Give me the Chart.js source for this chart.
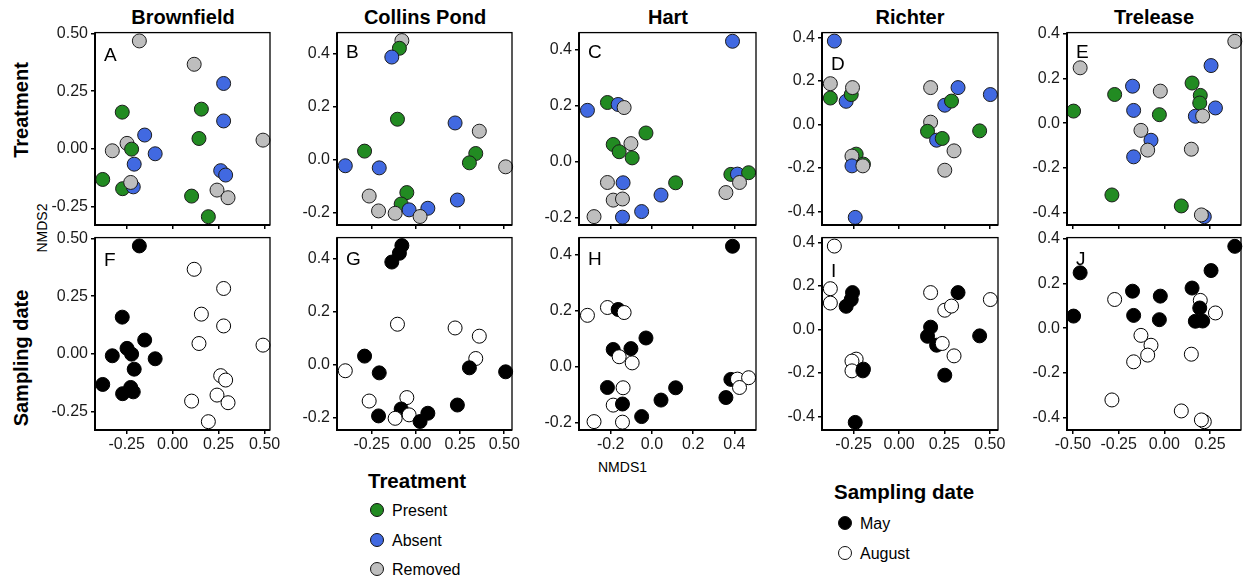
<!DOCTYPE html>
<html lang="en">
<head>
<meta charset="UTF-8">
<title>NMDS ordination by site</title>
<script src="https://cdn.jsdelivr.net/npm/chart.js"></script>
<style>
  body { margin: 0; width: 1244px; height: 583px; background: #fff; position: relative; overflow: hidden;
         font-family: "Liberation Sans", Arial, sans-serif; color: #000; }
  .panel { position: absolute; }
  .title { position: absolute; top: 6px; font-weight: bold; font-size: 20px; white-space: nowrap; transform: translateX(-50%); }
  .letter { position: absolute; font-size: 19px; line-height: 1; }
  .rot { position: absolute; white-space: nowrap; transform: translate(-50%, -50%) rotate(-90deg); }
  .rowlab { font-weight: bold; font-size: 20px; }
  .axlab { font-size: 14px; }
  .leg-title { position: absolute; font-weight: bold; font-size: 20.5px; white-space: nowrap; }
  .leg-item { position: absolute; font-size: 16px; white-space: nowrap; line-height: 18px; }
  .leg-item span.dot { position: absolute; left: -22px; top: 1px; width: 14px; height: 14px; border-radius: 50%;
                       border: 1px solid #111; box-sizing: border-box; }
</style>
</head>
<body>

<div class="title" style="left:183px">Brownfield</div>
<div class="title" style="left:425px">Collins Pond</div>
<div class="title" style="left:668px">Hart</div>
<div class="title" style="left:910px">Richter</div>
<div class="title" style="left:1154px">Trelease</div>

<div class="rot rowlab" style="left:21px; top:110px">Treatment</div>
<div class="rot rowlab" style="left:21px; top:358px">Sampling date</div>
<div class="rot axlab" style="left:42px; top:228px">NMDS2</div>
<div class="axlab" style="position:absolute; left:598px; top:459px">NMDS1</div>

<div class="leg-title" style="left:368px; top:469px">Treatment</div>
<div class="leg-item" style="left:392px; top:502px"><span class="dot" style="background:#228B22"></span>Present</div>
<div class="leg-item" style="left:392px; top:532px"><span class="dot" style="background:#4169E1"></span>Absent</div>
<div class="leg-item" style="left:392px; top:561px"><span class="dot" style="background:#BEBEBE"></span>Removed</div>

<div class="leg-title" style="left:834px; top:480px">Sampling date</div>
<div class="leg-item" style="left:860px; top:515px"><span class="dot" style="background:#000"></span>May</div>
<div class="leg-item" style="left:860px; top:545px"><span class="dot" style="background:#fff"></span>August</div>

<script>
  // ---- NMDS scores per site (same points in both rows) ----
  // treatment: P = present, A = absent, R = removed ; date: M = May, U = August
  const brownfieldX = [-0.181, 0.117, 0.277, -0.274, 0.156, 0.277, -0.152, -0.328, -0.248, -0.223, 0.143, 0.491,
                       -0.095, -0.209, -0.380, -0.272, -0.214, -0.228, 0.261, 0.288, 0.103, 0.241, 0.301, 0.194];
  const brownfieldY = [0.467, 0.366, 0.283, 0.159, 0.172, 0.121, 0.060, -0.008, 0.024, -0.001, 0.045, 0.038,
                       -0.021, -0.066, -0.132, -0.172, -0.164, -0.145, -0.094, -0.113, -0.204, -0.178, -0.211, -0.293];
  const brownfieldTrt = ['R','R','A','P','P','A','A','R','R','P','P','R','A','A','P','P','A','R','A','A','P','R','R','P'];
  const brownfieldDate = ['M','U','U','M','U','U','M','M','M','M','U','U','M','M','M','M','M','M','U','U','U','U','U','U'];

  const collinsX = [-0.079, -0.093, -0.136, -0.104, 0.222, 0.359, -0.290, 0.339, 0.303, -0.399, -0.207, 0.508,
                    -0.264, -0.051, -0.083, 0.235, -0.211, -0.117, -0.038, 0.068, 0.024];
  const collinsY = [0.448, 0.419, 0.386, 0.152, 0.138, 0.107, 0.032, 0.023, -0.012, -0.023, -0.031, -0.027,
                    -0.137, -0.124, -0.167, -0.152, -0.193, -0.202, -0.189, -0.183, -0.214];
  const collinsTrt = ['R','P','A','P','A','R','P','P','P','A','A','R','R','P','P','A','R','R','A','A','R'];
  const collinsDate = ['M','M','M','U','U','U','M','U','M','U','M','M','U','U','M','M','M','U','U','M','M'];

  const hartX = [0.391, -0.313, -0.216, -0.164, -0.135, -0.029, -0.188, -0.102, -0.159, -0.096, 0.383, 0.415,
                 0.469, 0.425, -0.216, -0.140, 0.115, 0.359, 0.044, -0.188, -0.143, -0.050, -0.281, -0.143];
  const hartY = [0.431, 0.184, 0.212, 0.205, 0.194, 0.103, 0.062, 0.065, 0.036, 0.014, -0.045, -0.044,
                 -0.039, -0.074, -0.074, -0.075, -0.075, -0.110, -0.119, -0.137, -0.133, -0.178, -0.196, -0.198];
  const hartTrt = ['A','A','P','A','R','P','P','R','P','P','P','A','P','R','R','A','P','R','A','R','R','A','R','A'];
  const hartDate = ['M','U','U','M','U','M','M','M','U','U','M','U','U','U','M','U','M','M','M','U','M','M','U','U'];

  const richterX = [-0.356, -0.378, -0.378, -0.291, -0.263, -0.256, 0.174, 0.325, 0.252, 0.289, 0.503, 0.174,
                    0.157, 0.444, 0.207, 0.238, 0.303, 0.252, -0.236, -0.259, -0.259, -0.196, -0.199, -0.241];
  const richterY = [0.384, 0.188, 0.122, 0.107, 0.138, 0.170, 0.170, 0.170, 0.089, 0.108, 0.138, 0.011,
                    -0.031, -0.029, -0.072, -0.064, -0.121, -0.210, -0.136, -0.145, -0.190, -0.182, -0.190, -0.427];
  const richterTrt = ['A','R','P','A','P','R','R','A','A','P','A','R','P','P','A','P','R','R','P','R','A','P','R','A'];
  const richterDate = ['U','U','U','M','M','M','U','M','U','U','U','M','M','M','M','U','U','M','U','U','U','M','M','M'];

  const treleaseX = [0.386, -0.461, 0.256, -0.174, 0.152, -0.022, -0.272, 0.197, 0.194, -0.497, -0.168, 0.280,
                     -0.027, 0.170, 0.210, -0.128, -0.073, -0.091, -0.168, 0.148, -0.287, 0.093, 0.219, 0.203];
  const treleaseY = [0.365, 0.247, 0.257, 0.165, 0.179, 0.143, 0.128, 0.124, 0.090, 0.054, 0.057, 0.068,
                     0.038, 0.031, 0.032, -0.032, -0.076, -0.120, -0.150, -0.116, -0.320, -0.369, -0.417, -0.409];
  const treleaseTrt = ['R','R','A','A','P','R','P','P','P','P','A','A','P','A','R','R','A','R','A','R','P','P','A','R'];
  const treleaseDate = ['M','M','M','M','M','M','U','U','M','M','M','U','M','M','M','U','U','U','U','U','U','U','U','U'];

  // tick values for each column
  const ticks25 = [-0.25, 0, 0.25, 0.5];
  const ticks2 = [-0.2, 0, 0.2, 0.4];
  const ticks4 = [-0.4, -0.2, 0, 0.2, 0.4];
  const ticksTreleaseX = [-0.5, -0.25, 0, 0.25];

  const trtColor = { P: '#228B22', A: '#4169E1', R: '#BEBEBE' };
  const dateColor = { M: '#000000', U: '#FFFFFF' };

  // panel layout: plot box edges in page pixels and axis limits
  const columns = [
    { x: brownfieldX, y: brownfieldY, trt: brownfieldTrt, date: brownfieldDate, left: 95, right: 270,
      xMin: -0.422, xMax: 0.529, xTicks: ticks25, xDec: 2, yMin: -0.329, yMax: 0.503, yTicks: ticks25, yDec: 2,
      letters: ['A', 'F'], letterTop: [45, 250] },
    { x: collinsX, y: collinsY, trt: collinsTrt, date: collinsDate, left: 337, right: 512,
      xMin: -0.446, xMax: 0.544, xTicks: ticks25, xDec: 2, yMin: -0.246, yMax: 0.478, yTicks: ticks2, yDec: 1,
      letters: ['B', 'G'], letterTop: [42, 249] },
    { x: hartX, y: hartY, trt: hartTrt, date: hartDate, left: 579, right: 756,
      xMin: -0.354, xMax: 0.505, xTicks: ticks2, xDec: 1, yMin: -0.226, yMax: 0.462, yTicks: ticks2, yDec: 1,
      letters: ['C', 'H'], letterTop: [42, 249] },
    { x: richterX, y: richterY, trt: richterTrt, date: richterDate, left: 822, right: 998,
      xMin: -0.424, xMax: 0.545, xTicks: ticks25, xDec: 2, yMin: -0.462, yMax: 0.423, yTicks: ticks4, yDec: 1,
      letters: ['D', 'I'], letterTop: [54, 261] },
    { x: treleaseX, y: treleaseY, trt: treleaseTrt, date: treleaseDate, left: 1067, right: 1241,
      xMin: -0.533, xMax: 0.420, xTicks: ticksTreleaseX, xDec: 2, yMin: -0.454, yMax: 0.404, yTicks: ticks4, yDec: 1,
      letters: ['E', 'J'], letterTop: [42, 249] }
  ];
  const rowTop = [32, 237];
  const plotH = 193;

  const FONT = '"Liberation Sans", Arial, sans-serif';
  const padL = 50, padR = 16, padT = 12, padB = 26;

  // black box around the plot area, heavier on the axis sides
  const framePlugin = {
    id: 'frame',
    afterDraw(chart) {
      const { ctx, chartArea: a } = chart;
      ctx.save();
      ctx.strokeStyle = '#000';
      ctx.lineWidth = 1.3;
      ctx.strokeRect(a.left, a.top, a.right - a.left, a.bottom - a.top);
      ctx.lineWidth = 2;
      ctx.beginPath();
      ctx.moveTo(a.left, a.top);
      ctx.lineTo(a.left, a.bottom);
      ctx.lineTo(a.right, a.bottom);
      ctx.stroke();
      ctx.restore();
    }
  };

  function makePanel(col, row) {
    const w = col.right - col.left;
    const holder = document.createElement('div');
    holder.className = 'panel';
    holder.style.left = (col.left - padL) + 'px';
    holder.style.top = (rowTop[row] - padT) + 'px';
    document.body.appendChild(holder);

    const cv = document.createElement('canvas');
    cv.width = w + padL + padR;
    cv.height = plotH + padT + padB;
    holder.appendChild(cv);

    const pts = col.x.map((x, i) => ({ x: x, y: col.y[i] }));
    const fill = row === 0 ? col.trt.map(t => trtColor[t]) : col.date.map(d => dateColor[d]);
    const edge = row === 0 ? '#1c1c1c' : '#000';

    const axisCommon = {
      type: 'linear',
      border: { display: false },
      grid: { drawOnChartArea: false, drawTicks: true, tickLength: 4, color: '#000', lineWidth: 1.5 }
    };

    new Chart(cv, {
      type: 'scatter',
      data: {
        datasets: [{
          data: pts,
          pointRadius: 7,
          pointBackgroundColor: fill,
          pointBorderColor: edge,
          pointBorderWidth: 1,
          clip: false
        }]
      },
      options: {
        responsive: false,
        animation: false,
        events: [],
        layout: { padding: { left: 0, right: padR, top: padT, bottom: 0 } },
        plugins: { legend: { display: false }, tooltip: { enabled: false } },
        scales: {
          x: Object.assign({}, axisCommon, {
            min: col.xMin, max: col.xMax,
            afterBuildTicks: s => { s.ticks = col.xTicks.map(v => ({ value: v })); },
            afterFit: s => { s.height = padB; },
            ticks: { display: row === 1, color: '#1a1a1a', padding: 1, maxRotation: 0, autoSkip: false,
                     font: { size: 16, family: FONT }, callback: v => v.toFixed(col.xDec) }
          }),
          y: Object.assign({}, axisCommon, {
            min: col.yMin, max: col.yMax,
            afterBuildTicks: s => { s.ticks = col.yTicks.map(v => ({ value: v })); },
            afterFit: s => { s.width = padL; },
            ticks: { color: '#1a1a1a', padding: 3, autoSkip: false,
                     font: { size: 16, family: FONT }, callback: v => v.toFixed(col.yDec) }
          })
        }
      },
      plugins: [framePlugin]
    });

    const lab = document.createElement('div');
    lab.className = 'letter';
    lab.textContent = col.letters[row];
    lab.style.left = (col.left + 9) + 'px';
    lab.style.top = col.letterTop[row] + 'px';
    document.body.appendChild(lab);
  }

  columns.forEach(col => { makePanel(col, 0); makePanel(col, 1); });
</script>
</body>
</html>
